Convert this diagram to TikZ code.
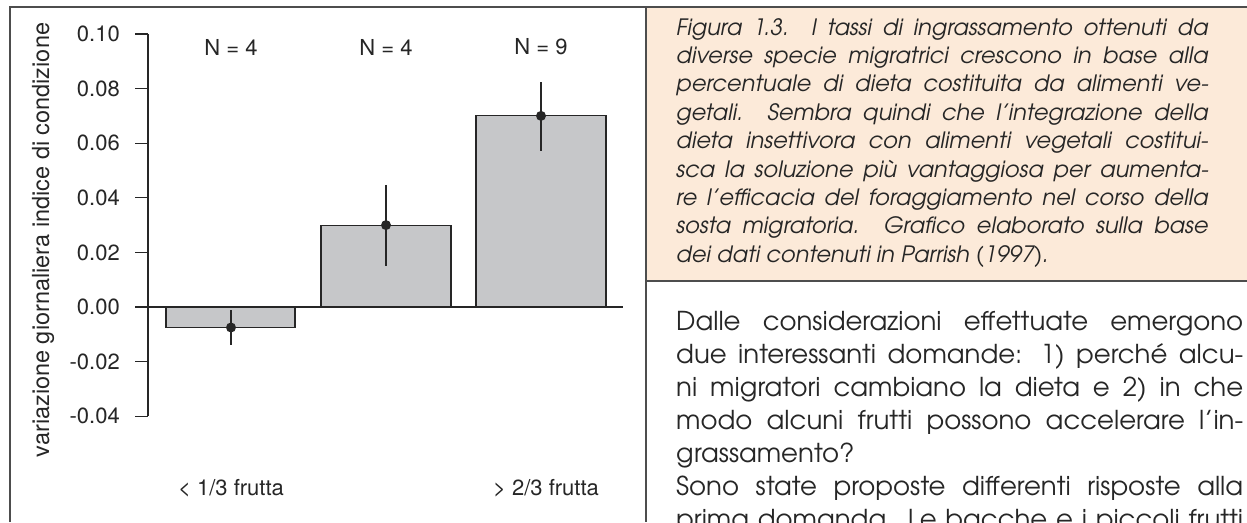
\documentclass[tikz,border=0pt]{standalone}
\usepackage{fontspec}
\setmainfont{TeX Gyre Heros}
\newfontfamily\gothic{texgyreadventor}[Extension=.otf, UprightFont=*-regular, ItalicFont=*-italic]
\definecolor{framegray}{HTML}{4D4D4D}
\definecolor{barfill}{HTML}{C6C7C9}
\definecolor{peach}{HTML}{FCEAD9}
\definecolor{ink}{HTML}{262626}
\hyphenpenalty=10000
\tolerance=10000

\begin{document}
\begin{tikzpicture}[x=1pt,y=-1pt]
\tikzstyle{every node}+=[inner sep=0pt, text=ink]
\tikzstyle{bar}=[fill=barfill, draw=ink, line width=1.2pt]
\tikzstyle{errbar}=[draw=ink, line width=1.3pt]
\tikzstyle{chart}=[font=\fontsize{22}{26}\selectfont]
\tikzstyle{prose}=[anchor=north west, align=justify]
\useasboundingbox (0,0) rectangle (1247,522);
\clip (0,0) rectangle (1247,522);
% frame and caption box
\fill [peach] (646,7) rectangle (1247,281);
\draw [framegray, line width=1.8pt] (10,522) -- (10,7) -- (1247,7);
\draw [framegray, line width=1.8pt] (646,7) -- (646,522);
\draw [framegray, line width=1.8pt] (646,281) -- (1247,281);
% bar chart, data coordinates
\begin{scope}[shift={(0,307)}, y=2730pt]
\draw [bar] (166,0) rectangle (295,-0.0075);
\draw [bar] (321,0) rectangle (451,0.03);
\draw [bar] (476,0) rectangle (606,0.07);
\draw [ink, line width=1.2pt] (135,0) -- (623,0);
\draw [ink, line width=1.2pt] (148,0.10) -- (148,-0.04);
\foreach \v [count=\i] in {0.10,0.08,0.06,0.04,0.02,0.00,-0.02,-0.04} {
  \draw [ink, line width=1.2pt] (135,\v) -- (148,\v);
  \node [chart, anchor=east] (tick\i) at (120,\v) {\v};
}
\coordinate (e1a) at (231,-0.0011);
\coordinate (e1b) at (231,-0.0139);
\coordinate (e2a) at (386,0.0447);
\coordinate (e2b) at (386,0.0150);
\coordinate (e3a) at (541,0.0824);
\coordinate (e3b) at (541,0.0571);
\draw [errbar] (e1a) -- (e1b);
\draw [errbar] (e2a) -- (e2b);
\draw [errbar] (e3a) -- (e3b);
\fill [ink] (231,-0.0075) circle (5pt);
\fill [ink] (386,0.03) circle (5pt);
\fill [ink] (541,0.07) circle (5pt);
\node [chart] (n1) at (231,0.0952) {N = 4};
\node [chart] (n2) at (386,0.0952) {N = 4};
\node [chart] (n3) at (541,0.0952) {N = 9};
\node [chart] (low) at (231,-0.0663) {< 1/3 frutta};
\node [chart] (high) at (546,-0.0663) {> 2/3 frutta};
\end{scope}
\node [chart, rotate=90, font=\fontsize{23.5}{26}\selectfont] (ylab) at (43,240)
  {variazione giornaliera indice di condizione};
% caption and running text
\node [prose, text width=532pt, font=\gothic\itshape\fontsize{22.5}{28.4}\selectfont]
  (caption) at (676,18) {Figura 1.3. I tassi di ingrassamento ottenuti da\linebreak
  diverse specie migratrici crescono in base alla\linebreak
  percentuale di dieta costituita da alimenti ve-\linebreak
  getali. Sembra quindi che l’integrazione della\linebreak
  dieta insettivora con alimenti vegetali costitui-\linebreak
  sca la soluzione più vantaggiosa per aumenta-\linebreak
  re l’efficacia del foraggiamento nel corso della\linebreak
  sosta migratoria. Grafico elaborato sulla base\linebreak
  dei dati contenuti in Parrish (1997).};
\node [prose, text width=567pt, font=\gothic\fontsize{26}{33}\selectfont]
  (body) at (676,311) {Dalle considerazioni effettuate emergono\linebreak
  due interessanti domande: 1) perché alcu-\linebreak
  ni migratori cambiano la dieta e 2) in che\linebreak
  modo alcuni frutti possono accelerare l’in-\linebreak
  grassamento?\\
  Sono state proposte differenti risposte alla\linebreak
  prima domanda. Le bacche e i piccoli frutti\linebreak};
\end{tikzpicture}
\end{document}
